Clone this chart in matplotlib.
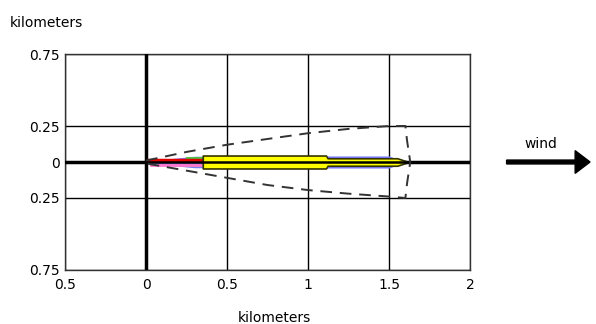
import matplotlib.pyplot as plt
from matplotlib.patches import FancyArrow

# axis ticks (labels show absolute values, as in the original)
x_ticks = [-0.5, 0, 0.5, 1, 1.5, 2]
x_tick_labels = ["0.5", "0", "0.5", "1", "1.5", "2"]
y_ticks = [-0.75, -0.25, 0, 0.25, 0.75]
y_tick_labels = ["0.75", "0.25", "0", "0.25", "0.75"]

# dashed outer contour (km)
contour_x = [0.0, 0.25, 0.5, 0.75, 1.0, 1.25, 1.5, 1.6, 1.61, 1.63, 1.61, 1.6,
             1.5, 1.25, 1.0, 0.75, 0.5, 0.25, 0.0]
contour_y = [0.01, 0.07, 0.12, 0.16, 0.2, 0.23, 0.25, 0.25, 0.15, 0.0, -0.15, -0.25,
             -0.24, -0.22, -0.195, -0.16, -0.11, -0.06, -0.01]

# plume layers: x breakpoints and half widths (km)
blue_x = [0.03, 0.3, 1.1, 1.5, 1.55]
blue_w = [0.01, 0.04, 0.042, 0.042, 0.02]
yellow_x = [0.35, 1.11, 1.12, 1.55, 1.62]
yellow_w = [0.045, 0.045, 0.026, 0.026, 0.0]
red_x = [0.02, 0.37]
red_y = [0.012, 0.012]
pink_x = [0.03, 0.37]
pink_y = [-0.02, -0.02]
green_x = [0.25, 0.4]
green_y = [0.03, 0.03]

fig = plt.figure(figsize=(5.96, 3.24), dpi=100, facecolor="white")
ax = fig.add_axes([0.109, 0.1667, 0.68, 0.6666])

ax.set_xlim(-0.5, 2)
ax.set_ylim(-0.75, 0.75)
ax.set_xticks(x_ticks)
ax.set_xticklabels(x_tick_labels)
ax.set_yticks(y_ticks)
ax.set_yticklabels(y_tick_labels)
ax.tick_params(length=0, labelsize=10)
ax.tick_params(axis="y", pad=4)
ax.tick_params(axis="x", pad=6)
ax.grid(color="black", linewidth=1)
for s in ax.spines.values():
    s.set_linewidth(1)
    s.set_color("#333333")

ax.axvline(0, color="black", linewidth=2.5, zorder=3)
ax.axhline(0, color="black", linewidth=2.5, zorder=3)

# plume
ax.fill_between(blue_x, [-w for w in blue_w], blue_w, color="#7b7bff", zorder=4, linewidth=0)
ax.plot(green_x, green_y, color="#4cc24c", linewidth=1.5, zorder=4)
ax.plot(green_x, [-v for v in green_y], color="#4cc24c", linewidth=1.5, zorder=4)
ax.plot(red_x, red_y, color="#e00000", linewidth=2.5, zorder=5)
ax.plot(pink_x, pink_y, color="#ff77cc", linewidth=2, zorder=5)
ax.fill_between(yellow_x, [-w for w in yellow_w], yellow_w, facecolor="#ffff00",
                edgecolor="#333300", linewidth=1.2, zorder=5)
ax.plot([0, 1.62], [0, 0], color="black", linewidth=1.8, zorder=6)

ax.plot(contour_x, contour_y, color="#333333", linewidth=1.4, dashes=(6, 4), zorder=6)

fig.text(0.017, 0.93, "kilometers", fontsize=10, ha="left", va="center")
fig.text(0.46, 0.02, "kilometers", fontsize=10, ha="center", va="center")
fig.text(0.907, 0.555, "wind", fontsize=10, ha="center", va="center")
fig.patches.append(FancyArrow(
    0.85, 0.5, 0.14, 0, width=0.012, head_width=0.07, head_length=0.025,
    length_includes_head=True, color="black", transform=fig.transFigure, figure=fig))

fig.savefig("out.png", dpi=100)
